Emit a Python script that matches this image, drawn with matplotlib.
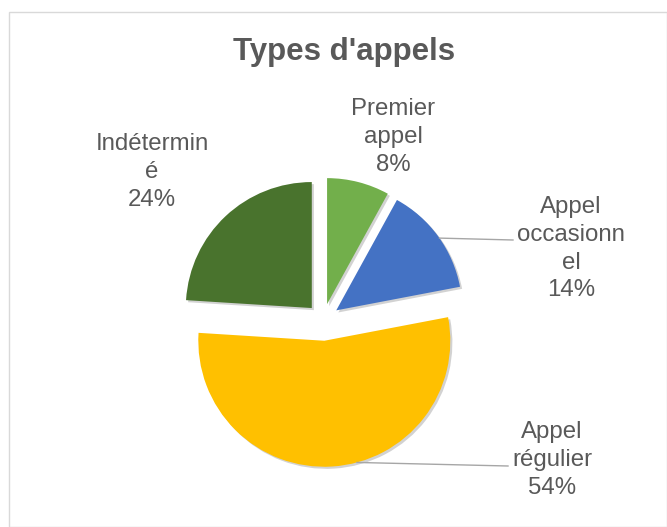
import matplotlib.pyplot as plt
import matplotlib.patheffects as pe
from matplotlib.patches import Rectangle
import numpy as np

# data
categories = ['Premier appel', 'Appel occasionnel', 'Appel régulier', 'Indéterminé']
values = [8, 14, 54, 24]
colors = ['#72AF4B', '#4472C4', '#FFC000', '#49732D']
explode = [0.13, 0.13, 0.165, 0.13]
# label lines as they wrap in the original chart
label_lines = [['Premier', 'appel'], ['Appel', 'occasionn', 'el'], ['Appel', 'régulier'], ['Indétermin', 'é']]

W, H = 667, 527
plt.rcParams['font.family'] = ['Liberation Sans', 'DejaVu Sans']
fig = plt.figure(figsize=(W / 100, H / 100), dpi=100)
ax = fig.add_axes([0, 0, 1, 1])

R = 126
cx, cy = 323, H - 320
# pie explode is an absolute offset, so scale by radius
wedges, _ = ax.pie(values, colors=colors, startangle=90, counterclock=False,
                   explode=[e * R for e in explode], radius=R, center=(cx, cy),
                   wedgeprops={'linewidth': 0})
for w in wedges:
    w.set_path_effects([pe.SimplePatchShadow(offset=(1.5, -1.5), shadow_rgbFace='#7f7f7f', alpha=0.35),
                        pe.Normal()])

ax.set_xlim(0, W)
ax.set_ylim(0, H)
ax.set_aspect('auto')
ax.axis('off')

# chart frame
ax.add_patch(Rectangle((8.5, 0.5), W - 9, H - 12.5, fill=False, edgecolor='#D9D9D9', linewidth=1))

ax.text(344.5, H - 60, "Types d'appels", ha='center', va='baseline',
        fontsize=22.5, fontweight='bold', color='#595959')

# label placement (x center, first baseline from top)
label_pos = [(393, 115), (571, 213), (552, 438), (152, 150)]
step = 27.8
txt_color = '#595959'
for lines, v, (lx, ly) in zip(label_lines, values, label_pos):
    for i, s in enumerate(lines + [f'{v}%']):
        ax.text(lx, H - (ly + i * step), s, ha='center', va='baseline',
                fontsize=17.3, color=txt_color)

# leader lines for the two right-hand labels
def arc_point(w, ang):
    a = np.deg2rad(ang)
    return w.center[0] + w.r * np.cos(a), w.center[1] + w.r * np.sin(a)

leaders = [(1, 35.0, (513, 240)), (2, -75.0, (508, 466))]
for idx, ang, (ex, ey) in leaders:
    x0, y0 = arc_point(wedges[idx], ang)
    ax.plot([x0, ex], [y0, H - ey], color='#A6A6A6', linewidth=1)

plt.savefig('out.png', dpi=100)
